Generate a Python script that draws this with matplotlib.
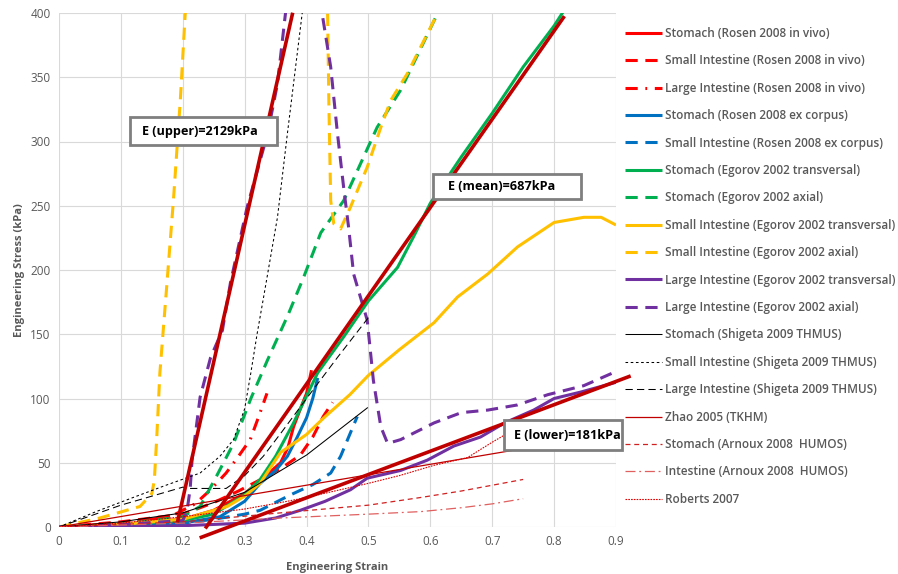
import numpy as np
import matplotlib.pyplot as plt
from matplotlib.patches import Rectangle

plt.rcParams['font.family'] = ['Open Sans', 'DejaVu Sans']

# Rosen 2008 in vivo
rv_stomach_x = [0, 0.1, 0.2, 0.25, 0.3, 0.33, 0.358, 0.37, 0.379, 0.39, 0.4, 0.408]
rv_stomach_y = [0, 2, 6, 13, 26, 38, 50, 62, 78, 92, 104, 122]
rv_small_x = [0, 0.1, 0.2, 0.217, 0.25, 0.29, 0.33, 0.36, 0.39, 0.41, 0.427, 0.442]
rv_small_y = [0, 4, 10, 13, 19, 28, 38, 46, 56, 70, 86, 97]
rv_large_x = [0, 0.1, 0.18, 0.22, 0.245, 0.27, 0.29, 0.309, 0.322, 0.336]
rv_large_y = [0, 3, 8, 18, 29, 42, 55, 68, 85, 104]
# Rosen 2008 ex corpus
rx_stomach_x = [0, 0.1, 0.2, 0.26, 0.3, 0.325, 0.35, 0.369, 0.385, 0.4, 0.41, 0.418]
rx_stomach_y = [0, 1, 3, 8, 20, 34, 44, 55, 70, 85, 100, 116]
rx_small_x = [0, 0.1, 0.2, 0.25, 0.3, 0.325, 0.374, 0.41, 0.439, 0.455, 0.468, 0.482]
rx_small_y = [0, 1, 3, 6, 10, 13, 25, 33, 42, 55, 70, 86]
# Egorov 2002
eg_stomach_t_x = [0, 0.1, 0.2, 0.25, 0.3, 0.325, 0.35, 0.379, 0.418, 0.46, 0.5, 0.547,
                  0.573, 0.6, 0.65, 0.7, 0.75, 0.8, 0.816]
eg_stomach_t_y = [0, 2, 5, 10, 25, 37, 55, 81, 120, 148, 176, 202,
                  226, 252, 288, 322, 358, 390, 402]
eg_stomach_a_x = [0, 0.1, 0.2, 0.228, 0.255, 0.282, 0.31, 0.337, 0.37, 0.395, 0.423,
                  0.46, 0.514, 0.552, 0.58, 0.612]
eg_stomach_a_y = [0, 2, 8, 16, 40, 65, 100, 130, 165, 194, 229,
                  254, 311, 340, 368, 400]
eg_small_t_x = [0, 0.1, 0.2, 0.272, 0.3, 0.325, 0.358, 0.4, 0.428, 0.47, 0.5, 0.55,
                0.606, 0.644, 0.693, 0.741, 0.8, 0.848, 0.876, 0.9]
eg_small_t_y = [0, 2, 6, 16, 24, 34, 58, 72, 85, 103, 118, 138,
                159, 179, 197, 218, 237, 241, 241, 235]
eg_small_a_x = [0, 0.066, 0.131, 0.15, 0.154, 0.158, 0.163, 0.174, 0.185, 0.196, 0.204,
                0.3, 0.434, 0.436, 0.439, 0.444, 0.455, 0.471, 0.498, 0.52, 0.536, 0.563, 0.612]
eg_small_a_y = [0, 7, 16, 26, 36, 70, 120, 187, 255, 332, 400,
                470, 400, 332, 254, 236, 232, 249, 280, 311, 332, 353, 400]
eg_large_t_x = [0, 0.1, 0.2, 0.3, 0.35, 0.39, 0.43, 0.471, 0.498, 0.552, 0.595, 0.638,
                0.681, 0.72, 0.767, 0.8, 0.843, 0.903]
eg_large_t_y = [0, 0, 1, 3, 7, 13, 20, 29, 38, 44, 52, 63,
                70, 81, 91, 100, 105, 113]
eg_large_a_x = [0, 0.1, 0.2, 0.207, 0.212, 0.215, 0.228, 0.245, 0.264, 0.277, 0.304,
                0.337, 0.353, 0.366, 0.4, 0.425, 0.439, 0.45, 0.46, 0.468, 0.476,
                0.498, 0.508, 0.52, 0.531, 0.552, 0.606, 0.65, 0.693, 0.741, 0.79, 0.848, 0.9]
eg_large_a_y = [0, 2, 5, 13, 30, 52, 101, 132, 153, 190, 249,
                306, 345, 400, 440, 400, 358, 306, 264, 233, 197,
                161, 114, 78, 65, 68, 81, 89, 91, 95, 103, 110, 121]
# Shigeta 2009 THMUS
sh_stomach_x = [0, 0.1, 0.2, 0.3, 0.4, 0.499]
sh_stomach_y = [0, 4, 11, 27, 56, 93]
sh_small_x = [0, 0.06, 0.12, 0.17, 0.228, 0.26, 0.282, 0.3, 0.31, 0.32, 0.331, 0.353,
              0.369, 0.393]
sh_small_y = [0, 12, 23, 32, 42, 55, 68, 92, 120, 150, 180, 241, 306, 400]
sh_large_x = [0, 0.1, 0.2, 0.21, 0.27, 0.3, 0.33, 0.36, 0.4, 0.45, 0.5]
sh_large_y = [0, 17, 31, 30, 30, 40, 55, 74, 100, 132, 163]
# Zhao 2005, Arnoux 2008, Roberts 2007
zhao_x = [0, 0.75]
zhao_y = [0, 61]
ar_stomach_x = [0, 0.2, 0.358, 0.5, 0.585, 0.65, 0.75]
ar_stomach_y = [0, 4, 11, 17, 23, 28, 37]
ar_intest_x = [0, 0.2, 0.358, 0.5, 0.585, 0.65, 0.7, 0.75]
ar_intest_y = [0, 3, 7, 10, 12, 15, 18, 22]
roberts_x = [0, 0.1, 0.2, 0.3, 0.358, 0.4, 0.5, 0.55, 0.606, 0.66, 0.7, 0.75]
roberts_y = [0, 3, 8, 14, 19, 23, 34, 40, 48, 54, 66, 80]

# linear moduli fits [kPa]
E_upper, E_mean, E_lower = 2129, 687, 181

red, blue, green = '#FF0000', '#0070C0', '#00B050'
yellow, purple, dred = '#FFC000', '#7030A0', '#C00000'
grey = '#595959'

series = [
    (rv_stomach_x, rv_stomach_y, red, 2.2, None, 'Stomach (Rosen 2008 in vivo)'),
    (rv_small_x, rv_small_y, red, 2.2, (4, 2.5), 'Small Intestine (Rosen 2008 in vivo)'),
    (rv_large_x, rv_large_y, red, 2.2, (4, 2.5, 0.6, 2.5), 'Large Intestine (Rosen 2008 in vivo)'),
    (rx_stomach_x, rx_stomach_y, blue, 2.2, None, 'Stomach (Rosen 2008 ex corpus)'),
    (rx_small_x, rx_small_y, blue, 2.2, (4, 2.5), 'Small Intestine (Rosen 2008 ex corpus)'),
    (eg_stomach_t_x, eg_stomach_t_y, green, 2.2, None, 'Stomach (Egorov 2002 transversal)'),
    (eg_stomach_a_x, eg_stomach_a_y, green, 2.2, (4, 2.5), 'Stomach (Egorov 2002 axial)'),
    (eg_small_t_x, eg_small_t_y, yellow, 2.2, None, 'Small Intestine (Egorov 2002 transversal)'),
    (eg_small_a_x, eg_small_a_y, yellow, 2.2, (4, 2.5), 'Small Intestine (Egorov 2002 axial)'),
    (eg_large_t_x, eg_large_t_y, purple, 2.2, None, 'Large Intestine (Egorov 2002 transversal)'),
    (eg_large_a_x, eg_large_a_y, purple, 2.2, (4, 2.5), 'Large Intestine (Egorov 2002 axial)'),
    (sh_stomach_x, sh_stomach_y, 'black', 0.75, None, 'Stomach (Shigeta 2009 THMUS)'),
    (sh_small_x, sh_small_y, 'black', 0.75, (2.5, 2.5), 'Small Intestine (Shigeta 2009 THMUS)'),
    (sh_large_x, sh_large_y, 'black', 0.75, (7, 4), 'Large Intestine (Shigeta 2009 THMUS)'),
    (zhao_x, zhao_y, dred, 0.9, None, 'Zhao 2005 (TKHM)'),
    (ar_stomach_x, ar_stomach_y, '#D02020', 0.9, (4, 3), 'Stomach (Arnoux 2008  HUMOS)'),
    (ar_intest_x, ar_intest_y, '#E06060', 0.9, (8, 3, 1.5, 3), 'Intestine (Arnoux 2008  HUMOS)'),
    (roberts_x, roberts_y, '#E00000', 0.8, (1.5, 1), 'Roberts 2007'),
]

fig = plt.figure(figsize=(8.98, 5.74), dpi=100)
ax = fig.add_axes([59 / 898, 47 / 574, 557 / 898, 514 / 574])

handles = []
for x, y, c, lw, dash, lab in series:
    ln, = ax.plot(x, y, color=c, lw=lw, label=lab, solid_capstyle='butt')
    if dash:
        ln.set_dashes(dash)
    handles.append(ln)

# E fit lines
fits = [
    (E_upper, 0.192, 5, 0.377),
    (E_mean, 0.238, 0, 0.815),
    (E_lower, 0.23, -8, 0.921),
]
for E, x0, y0, x1 in fits:
    xs = np.array([x0, x1])
    ax.plot(xs, y0 + E * (xs - x0), color=dred, lw=2.6, clip_on=False, zorder=5)

# label boxes
boxes = [
    (0.115, 297, 0.238, 22, 0.134, 'E (upper)=2129kPa'),
    (0.604, 255, 0.240, 20, 0.628, 'E (mean)=687kPa'),
    (0.719, 60, 0.190, 23, 0.735, 'E (lower)=181kPa'),
]
for bx, by, bw, bh, tx, txt in boxes:
    ax.add_patch(Rectangle((bx, by), bw, bh, fc='white', ec='#7F7F7F', lw=2,
                           clip_on=False, zorder=6))
    ax.text(tx, by + bh / 2, txt, ha='left', va='center', fontsize=9.1,
            fontweight='bold', color='black', zorder=7)

ax.set_xlim(0, 0.9)
ax.set_ylim(0, 400)
ax.set_xticks(np.arange(0, 0.91, 0.1))
ax.set_xticklabels(['0', '0.1', '0.2', '0.3', '0.4', '0.5', '0.6', '0.7', '0.8', '0.9'])
ax.set_yticks(np.arange(0, 401, 50))
ax.grid(True, color='#D9D9D9', lw=0.8)
ax.set_axisbelow(True)
for s in ax.spines.values():
    s.set_visible(False)
ax.tick_params(length=0, labelsize=8.5, colors=grey, pad=6)
ax.set_xlabel('Engineering Strain', fontsize=8, fontweight='bold', color=grey, labelpad=10)
ax.set_ylabel('Engineering Stress (kPa)', fontsize=8, fontweight='bold', color=grey, labelpad=4)

leg = fig.legend(handles=handles, loc='upper left', bbox_to_anchor=(625 / 898, 1 - 27 / 574),
                 frameon=False, fontsize=8.5, handlelength=3.1, handletextpad=0.3,
                 labelspacing=1.22, borderpad=0, borderaxespad=0)
for t in leg.get_texts():
    t.set_color(grey)
    t.set_fontweight('semibold')

fig.savefig('out.png', dpi=100)
